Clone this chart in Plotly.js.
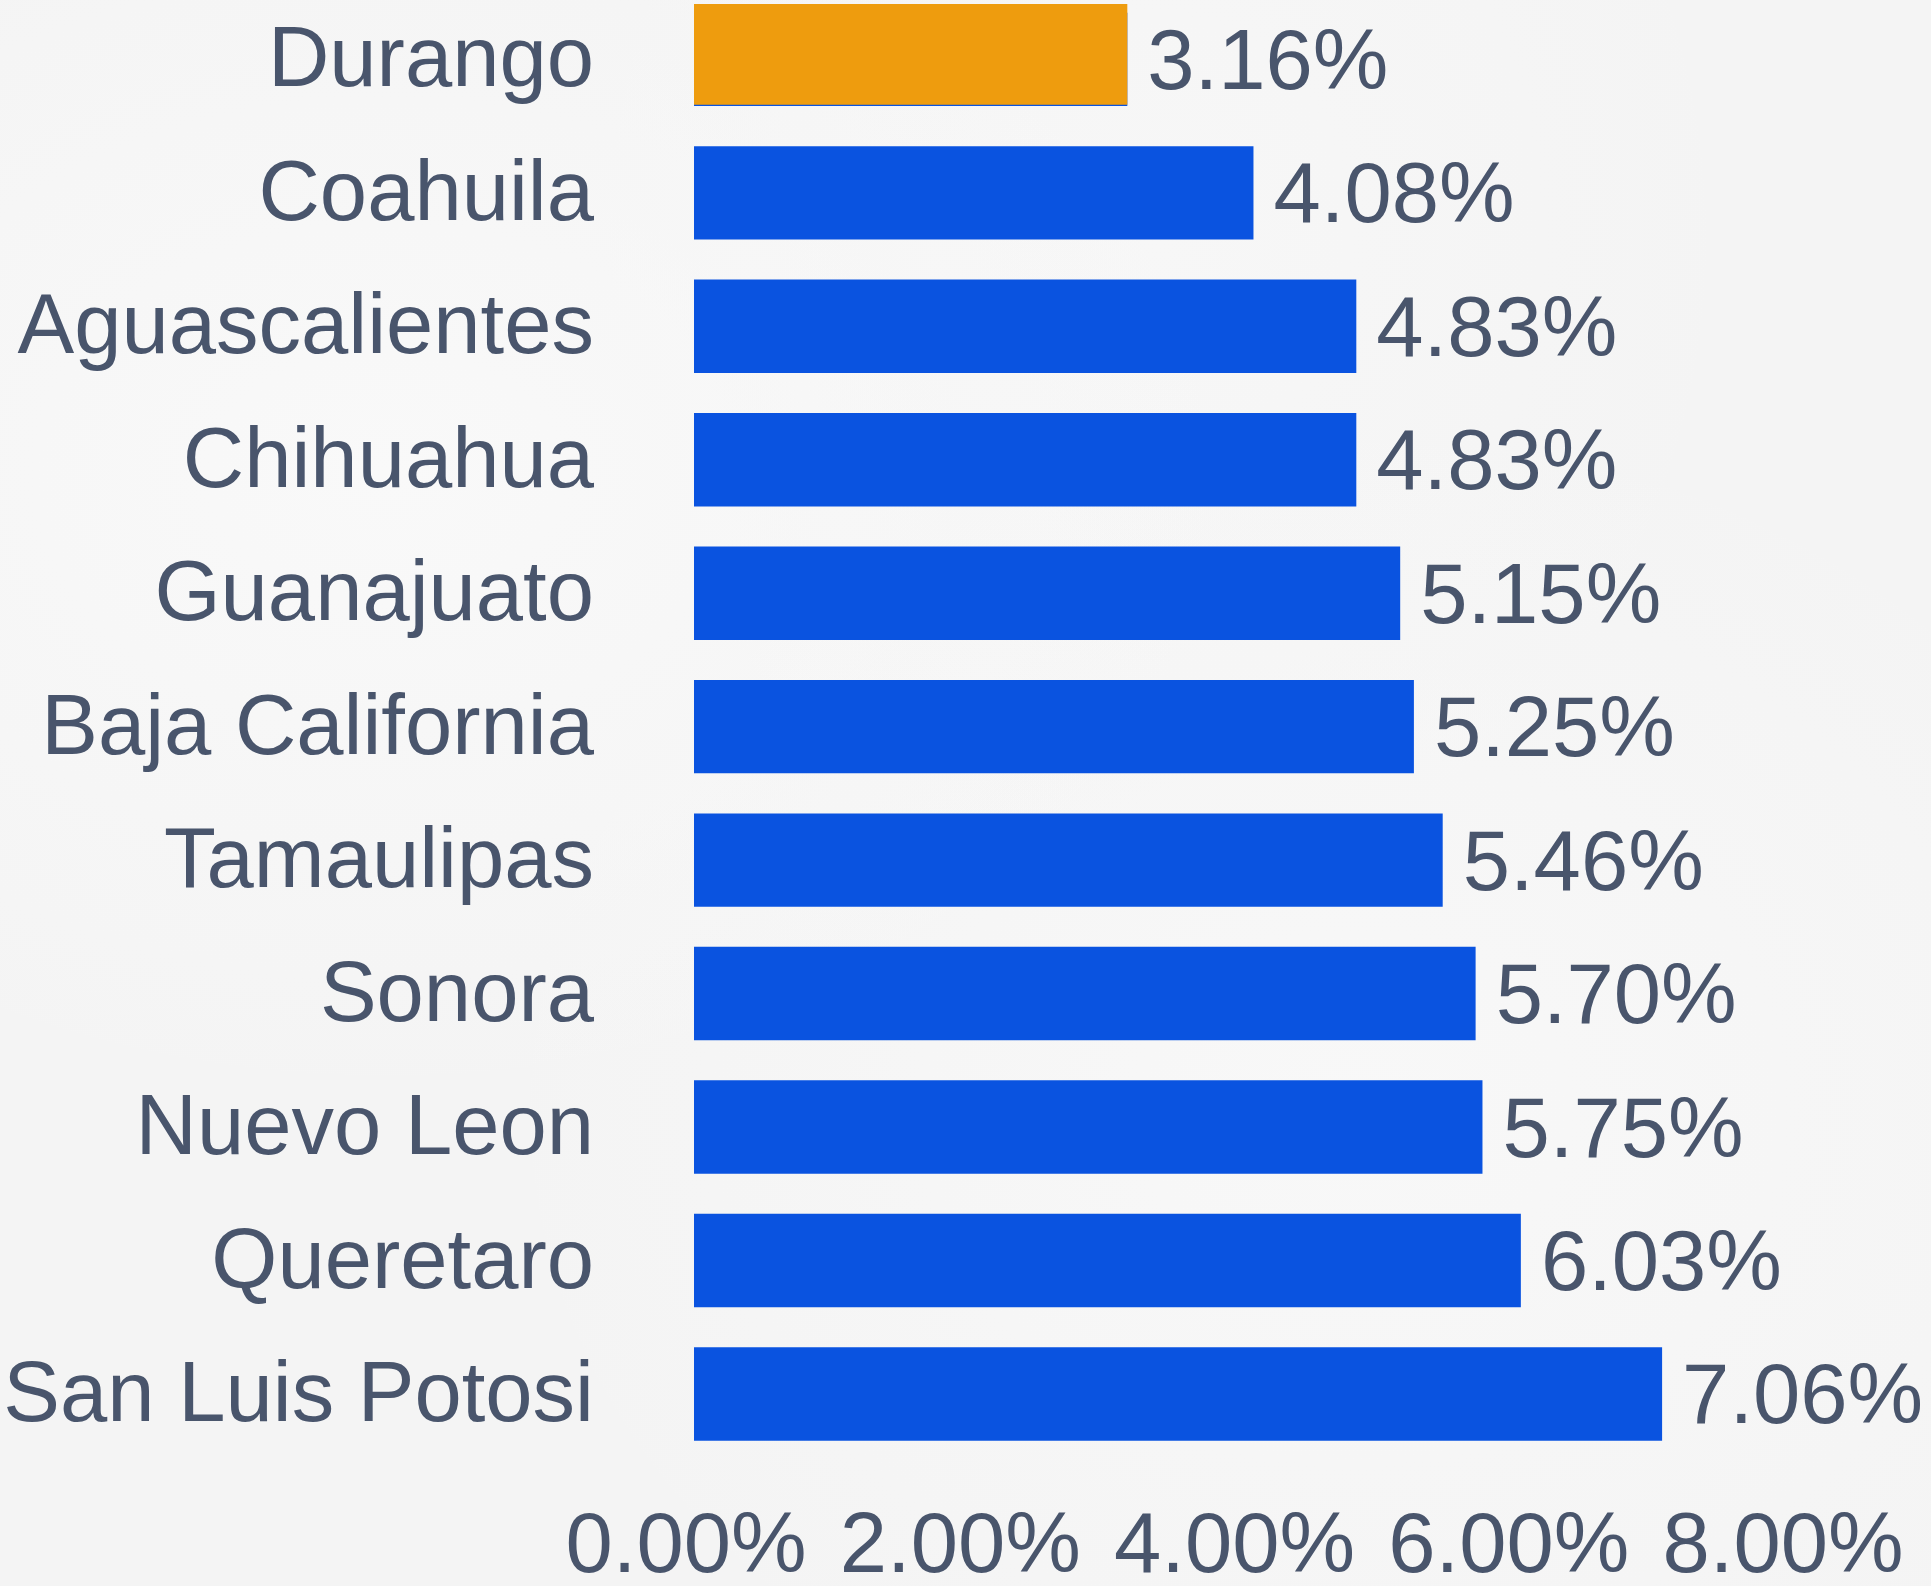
<!DOCTYPE html>
<html>
<head>
<meta charset="utf-8">
<script src="https://cdn.plot.ly/plotly-3.0.1.min.js"></script>
<style>
html,body{margin:0;padding:0;}
body{width:1931px;height:1586px;background:#f4f4f4;
background-image:radial-gradient(ellipse at 20% 30%, #f9f9f9 0%, rgba(249,249,249,0) 40%),
radial-gradient(ellipse at 70% 70%, #f8f8f8 0%, rgba(248,248,248,0) 45%),
radial-gradient(ellipse at 60% 15%, #f7f7f7 0%, rgba(247,247,247,0) 35%);}
#chart{width:1931px;height:1586px;}
</style>
</head>
<body>
<div id="chart"></div>
<script>
const states = ["Durango","Coahuila","Aguascalientes","Chihuahua","Guanajuato","Baja California","Tamaulipas","Sonora","Nuevo Leon","Queretaro","San Luis Potosi"];
const values = [3.16,4.08,4.83,4.83,5.15,5.25,5.46,5.70,5.75,6.03,7.06];
const highlightState = ["Durango"];
const highlightValue = [3.16];
const tickVals = [0,2,4,6,8];
const tickLabels = ["0.00%","2.00%","4.00%","6.00%","8.00%"];

const textColor = "rgb(73,85,108)";
const font = {family: "'Liberation Sans', Arial, Helvetica, sans-serif", size: 85, color: textColor};

const traces = [
  {
    type: "bar",
    orientation: "h",
    y: states,
    x: values,
    marker: {color: "#0a53e0"},
    width: 0.70,
    offset: -0.33,
    text: values.map(v => "\u2009" + v.toFixed(2) + "%"),
    textposition: "outside",
    textfont: font,
    constraintext: "none",
    cliponaxis: false,
    hoverinfo: "none"
  },
  {
    type: "bar",
    orientation: "h",
    y: highlightState,
    x: highlightValue,
    marker: {color: "#ee9c0e", line: {width: 0}},
    width: 0.754,
    offset: -0.395,
    hoverinfo: "none"
  }
];

const layout = {
  width: 1931,
  height: 1586,
  paper_bgcolor: "rgba(0,0,0,0)",
  plot_bgcolor: "rgba(0,0,0,0)",
  showlegend: false,
  barmode: "overlay",
  margin: {l: 694, r: 140, t: 0, b: 126},
  font: font,
  xaxis: {
    range: [0, 8],
    tickvals: tickVals,
    ticktext: tickLabels,
    showgrid: false,
    zeroline: false,
    showline: false,
    ticks: "",
    tickfont: font,
    ticklabelstandoff: 26,
    ticklabelshift: -8,
    fixedrange: true
  },
  yaxis: {
    type: "category",
    categoryorder: "array",
    categoryarray: states,
    range: [10.515, -0.425],
    showgrid: false,
    zeroline: false,
    showline: false,
    ticks: "",
    tickfont: font,
    ticklabelstandoff: 99,
    fixedrange: true
  }
};

Plotly.newPlot("chart", traces, layout, {staticPlot: true, displayModeBar: false});
</script>
</body>
</html>
